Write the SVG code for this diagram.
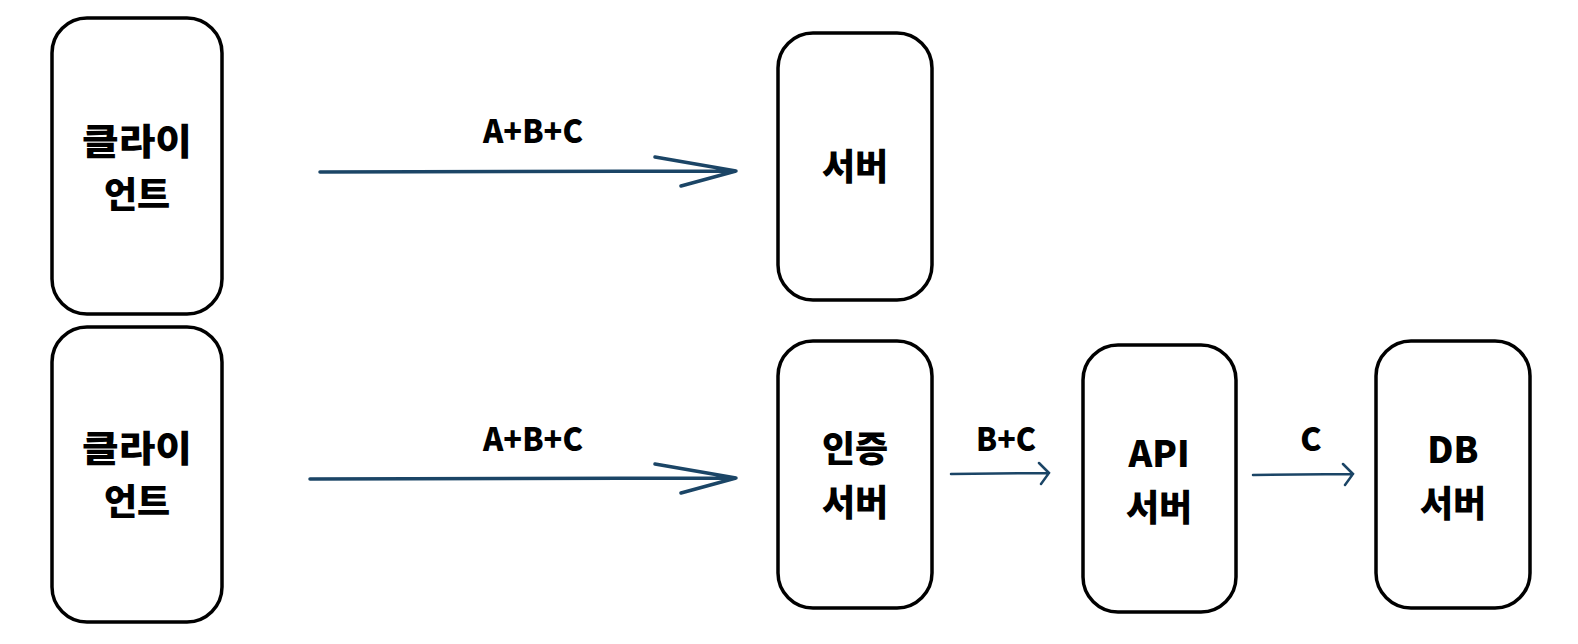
<svg xmlns="http://www.w3.org/2000/svg" width="1578" height="644" viewBox="0 0 1578 644">
<style>
.box{fill:#fff;stroke:#000;stroke-width:3.5}
.t{font-family:"Noto Sans CJK KR","Noto Sans",sans-serif;font-weight:900;font-size:36px;fill:#000;text-anchor:middle}
.l{font-family:"Noto Sans CJK KR","Noto Sans",sans-serif;font-weight:900;font-size:32px;fill:#000;text-anchor:middle}
.c{fill:none;stroke:#1b4566;stroke-linecap:round}
</style>
<rect width="1578" height="644" fill="#fff"/>
<g id="client1">
<rect class="box" x="52" y="18" width="170" height="296" rx="35"/>
<text class="t" x="137" y="155" textLength="110" lengthAdjust="spacingAndGlyphs">클라이</text>
<text class="t" x="137" y="208">언트</text>
</g>
<g id="server">
<rect class="box" x="778" y="33" width="154" height="267" rx="35"/>
<text class="t" x="855" y="180">서버</text>
</g>
<g id="client2">
<rect class="box" x="52" y="327" width="170" height="295" rx="35"/>
<text class="t" x="137" y="462" textLength="110" lengthAdjust="spacingAndGlyphs">클라이</text>
<text class="t" x="137" y="515">언트</text>
</g>
<g id="auth">
<rect class="box" x="778" y="341" width="154" height="267" rx="35"/>
<text class="t" x="855" y="462">인증</text>
<text class="t" x="855" y="516">서버</text>
</g>
<g id="api">
<rect class="box" x="1083" y="345" width="153" height="267" rx="35"/>
<text class="t" x="1159" y="467">API</text>
<text class="t" x="1159" y="521">서버</text>
</g>
<g id="db">
<rect class="box" x="1376" y="341" width="154" height="267" rx="35"/>
<text class="t" x="1453" y="463">DB</text>
<text class="t" x="1453" y="517">서버</text>
</g>
<g id="connectors">
<path class="c" stroke-width="3.5" d="M320 172 L736 171 M655 157 L736 171 L681 186"/>
<path class="c" stroke-width="3.5" d="M310 479 L736 478 M655 464 L736 478 L681 493"/>
<path class="c" stroke-width="2.5" d="M951 474 L1049 473 M1039 463 L1049 473 L1041 484"/>
<path class="c" stroke-width="2.5" d="M1253 475 L1353 474 M1343 464 L1353 474 L1345 485"/>
<text class="l" x="533" y="143" textLength="100" lengthAdjust="spacingAndGlyphs">A+B+C</text>
<text class="l" x="533" y="451" textLength="100" lengthAdjust="spacingAndGlyphs">A+B+C</text>
<text class="l" x="1006" y="451" textLength="60" lengthAdjust="spacingAndGlyphs">B+C</text>
<text class="l" x="1311" y="451">C</text>
</g>
</svg>
